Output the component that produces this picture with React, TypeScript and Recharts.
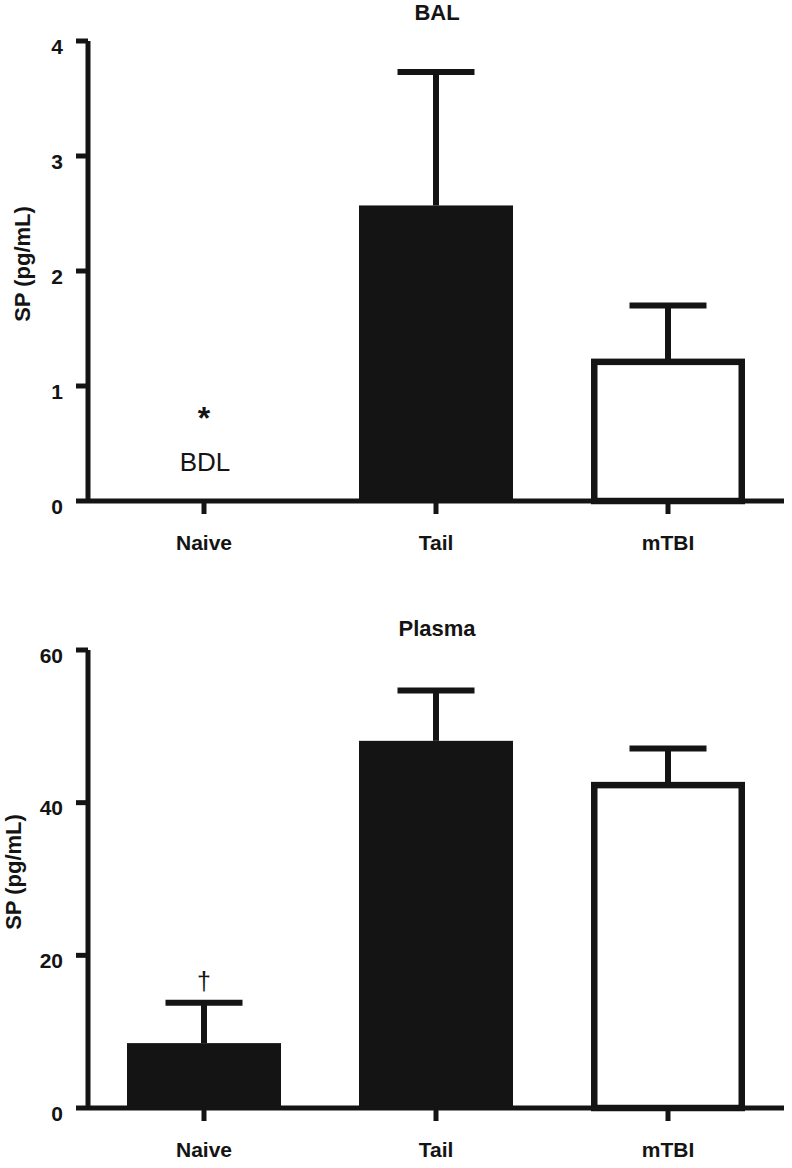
import React from 'react';
import { BarChart, Bar, XAxis, YAxis, LabelList } from 'recharts';

const groups = ['Naive', 'Tail', 'mTBI'];

// BAL panel (Naive below detection limit)
const balMean = [0, 2.57, 1.21];
const balSem = [0, 1.16, 0.49];
const balNotes = ['*', '', ''];
const balTicks = [0, 1, 2, 3, 4];

// Plasma panel
const plasmaMean = [8.5, 48.1, 42.3];
const plasmaSem = [5.3, 6.6, 4.8];
const plasmaNotes = ['†', '', ''];
const plasmaTicks = [0, 20, 40, 60];

const INK = '#141414';
const FONT = "'Liberation Sans', Arial, Helvetica, sans-serif";
const openGroups = ['mTBI'];

const balRows = groups.map((g, i) => ({ group: g, mean: balMean[i], sem: balSem[i], note: balNotes[i] }));
const plasmaRows = groups.map((g, i) => ({ group: g, mean: plasmaMean[i], sem: plasmaSem[i], note: plasmaNotes[i] }));

function BarWithError(props: any) {
  const { x, y, width, height, payload } = props;
  if (!payload || !payload.mean || !height) return null;
  const perUnit = height / payload.mean;
  const capY = y - payload.sem * perUnit;
  const cx = x + width / 2;
  const open = openGroups.includes(payload.group);
  return (
    <g>
      {open ? (
        <rect x={x + 3.25} y={y} width={width - 6.5} height={height} fill="#fff" stroke={INK} strokeWidth={6.5} />
      ) : (
        <rect x={x} y={y} width={width} height={height} fill={INK} />
      )}
      <line x1={cx} x2={cx} y1={y} y2={capY} stroke={INK} strokeWidth={6} />
      <line x1={cx - 38.5} x2={cx + 38.5} y1={capY} y2={capY} stroke={INK} strokeWidth={6} />
    </g>
  );
}

function makeNote(rows: any[]) {
  return (props: any) => {
    const vb = props.viewBox || {};
    const x = props.x ?? vb.x;
    const y = props.y ?? vb.y;
    const width = props.width ?? vb.width;
    const height = props.height ?? vb.height;
    const value = props.value;
    const row = rows[props.index];
    if (!value || !row) return null;
    const cx = x + width / 2;
    if (!row.mean) {
      // below detection limit: marker + BDL text sitting on the axis
      const base = y + height;
      return (
        <g fontFamily={FONT} fill={INK}>
          <text x={cx} y={base - 72} textAnchor="middle" fontSize={32} fontWeight={700}>{value}</text>
          <text x={cx + 1} y={base - 30} textAnchor="middle" fontSize={26}>BDL</text>
        </g>
      );
    }
    const capY = y - row.sem * (height / row.mean);
    return (
      <text x={cx} y={capY - 13} textAnchor="middle" fontFamily={FONT} fontSize={25} fill={INK}>{value}</text>
    );
  };
}

function XTick(props: any) {
  const { x, y, payload } = props;
  return (
    <text x={x} y={y + 36} textAnchor="middle" fontFamily={FONT} fontSize={21} fontWeight={700} fill={INK}>
      {payload.value}
    </text>
  );
}

function YTick(props: any) {
  const { x, y, payload } = props;
  return (
    <text x={x} y={y + 12.5} textAnchor="end" fontFamily={FONT} fontSize={21} fontWeight={700} fill={INK}>
      {payload.value}
    </text>
  );
}

function Panel({ title, titleY, rows, ticks, height, bottom, labelX }: any) {
  const Note = makeNote(rows);
  return (
    <div style={{ position: 'relative', width: 792, height }}>
      <BarChart width={792} height={height} data={rows} margin={{ top: 41, right: 8, left: 0, bottom }} barSize={154}>
        <XAxis
          dataKey="group"
          height={50}
          interval={0}
          tickSize={13}
          tickMargin={0}
          axisLine={{ stroke: INK, strokeWidth: 5 }}
          tickLine={{ stroke: INK, strokeWidth: 5 }}
          tick={XTick}
        />
        <YAxis
          width={88}
          domain={[ticks[0], ticks[ticks.length - 1]]}
          ticks={ticks}
          interval={0}
          tickSize={12}
          tickMargin={13}
          axisLine={{ stroke: INK, strokeWidth: 5 }}
          tickLine={{ stroke: INK, strokeWidth: 5 }}
          tick={YTick}
          label={(p: any) => {
            const vb = p.viewBox;
            const cy = vb.y + vb.height / 2 - 7;
            return (
              <text
                x={labelX}
                y={cy}
                transform={`rotate(-90, ${labelX}, ${cy})`}
                textAnchor="middle"
                dominantBaseline="central"
                fontFamily={FONT}
                fontSize={22}
                fontWeight={700}
                fill={INK}
              >
                SP (pg/mL)
              </text>
            );
          }}
        />
        <Bar dataKey="mean" isAnimationActive={false} shape={(p: any) => <BarWithError {...p} />}>
          <LabelList dataKey="note" content={Note} />
        </Bar>
      </BarChart>
      <svg width={792} height={40} style={{ position: 'absolute', left: 0, top: 0, pointerEvents: 'none' }}>
        <text x={437} y={titleY} textAnchor="middle" fontFamily={FONT} fontSize={22} fontWeight={700} fill={INK}>
          {title}
        </text>
      </svg>
    </div>
  );
}

export default function App() {
  return (
    <div style={{ width: 792, height: 1168, background: '#fff', overflow: 'hidden' }}>
      <style>{'html,body{margin:0;padding:0;overflow:hidden;background:#fff}'}</style>
      <Panel title="BAL" titleY={20} rows={balRows} ticks={balTicks} height={580} bottom={29} labelX={22} />
      <div style={{ height: 29 }} />
      <Panel title="Plasma" titleY={27} rows={plasmaRows} ticks={plasmaTicks} height={559} bottom={10} labelX={13} />
    </div>
  );
}
